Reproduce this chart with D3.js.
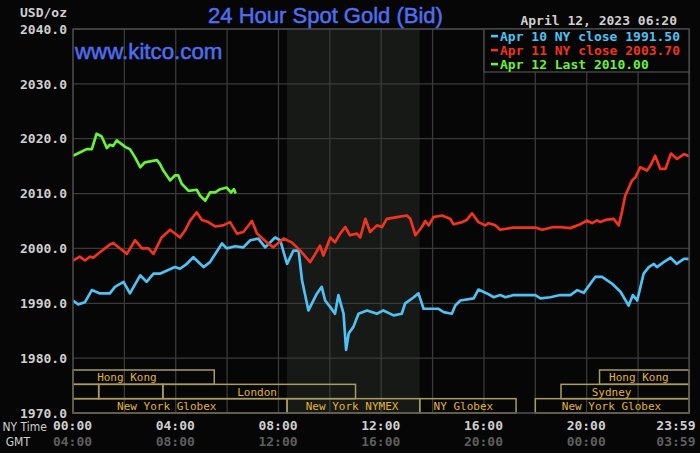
<!DOCTYPE html>
<html>
<head>
<meta charset="utf-8">
<script src="https://cdn.jsdelivr.net/npm/d3@7"></script>
<style>
  html, body { margin: 0; padding: 0; background: #060606; }
  svg { display: block; }
  .mono { font-family: "DejaVu Sans Mono", "Liberation Mono", monospace; font-weight: bold; }
</style>
</head>
<body>
<svg id="chart" width="700" height="453"></svg>
<script>
// ----- data (minutes after NY midnight, price) -----
const apr10 = [
  [0,1990.5],[12,1989.8],[28,1990.2],[44,1992.4],[63,1991.8],[86,1991.8],[98,1993.0],[118,1993.9],
  [133,1991.8],[157,1995.1],[172,1993.9],[188,1995.4],[203,1995.4],[238,1996.6],[250,1996.3],[266,1997.2],
  [281,1998.4],[305,1996.6],[320,1997.5],[348,2000.9],[359,2000.0],[379,2000.4],[398,2000.2],[414,2001.5],
  [433,2001.8],[449,2000.2],[472,2002.0],[484,2001.5],[500,1997.2],[515,1999.6],[527,1999.6],[535,1994.2],
  [550,1988.7],[570,1991.8],[581,1993.0],[589,1990.5],[601,1989.3],[612,1988.1],[620,1991.5],[632,1988.1],
  [638,1981.5],[644,1984.5],[655,1985.7],[667,1988.1],[687,1988.7],[710,1988.1],[725,1988.7],[749,1987.8],
  [768,1988.1],[776,1990.0],[796,1991.1],[807,1991.8],[819,1989.0],[835,1989.0],[854,1989.0],[866,1988.4],
  [885,1988.1],[893,1989.6],[905,1990.5],[936,1990.9],[947,1992.5],[967,1991.8],[983,1991.1],[998,1991.5],
  [1010,1991.1],[1029,1991.5],[1080,1991.5],[1092,1990.9],[1115,1991.1],[1138,1991.5],[1162,1991.5],[1178,1992.4],
  [1193,1991.9],[1220,1994.8],[1236,1994.8],[1259,1993.6],[1279,1992.1],[1298,1989.6],[1308,1991.5],[1318,1990.5],
  [1333,1995.4],[1345,1996.6],[1357,1997.2],[1364,1996.6],[1380,1997.5],[1396,1998.3],[1410,1997.2],[1427,1998.1],
  [1439,1998.1]
];
const apr11 = [
  [0,1997.8],[16,1998.5],[28,1997.8],[40,1998.5],[47,1998.3],[63,1999.3],[86,2000.7],[94,2001.0],
  [110,2000.0],[126,1999.0],[145,2001.5],[161,2000.0],[176,2000.0],[188,1999.0],[207,2002.0],[227,2003.4],
  [250,2002.0],[262,2003.3],[274,2005.1],[289,2006.6],[301,2005.2],[316,2004.8],[332,2004.0],[351,2004.2],
  [367,2004.8],[383,2002.7],[398,2003.0],[418,2005.0],[430,2002.7],[453,2001.1],[468,2000.2],[492,2001.8],
  [511,2001.1],[531,1999.6],[554,1997.5],[566,1999.0],[577,2000.5],[585,1998.7],[601,2002.0],[612,2001.1],
  [624,2002.7],[636,2003.9],[647,2002.4],[663,2002.7],[671,2002.0],[683,2005.4],[694,2003.0],[710,2004.2],
  [722,2003.9],[733,2005.4],[757,2005.7],[780,2006.0],[788,2005.4],[800,2002.4],[815,2003.9],[823,2005.0],
  [831,2004.2],[842,2005.7],[862,2006.0],[881,2005.4],[889,2004.4],[909,2004.8],[920,2005.2],[932,2006.4],
  [947,2004.8],[963,2004.2],[971,2004.6],[987,2004.2],[998,2003.4],[1029,2003.8],[1080,2003.8],[1096,2003.4],
  [1122,2003.9],[1138,2003.9],[1162,2003.7],[1185,2004.4],[1201,2005.1],[1213,2004.6],[1224,2005.1],[1232,2004.8],
  [1244,2005.2],[1263,2005.4],[1275,2004.2],[1283,2006.9],[1290,2009.6],[1306,2012.4],[1314,2013.0],[1325,2014.8],
  [1341,2014.2],[1349,2015.1],[1360,2016.9],[1372,2014.5],[1384,2014.5],[1397,2017.3],[1411,2016.3],[1427,2017.2],
  [1439,2016.8]
];
const apr12 = [
  [0,2016.9],[16,2017.5],[32,2018.1],[44,2018.1],[55,2020.9],[67,2020.4],[79,2018.3],[86,2018.9],
  [94,2018.7],[102,2019.7],[122,2018.5],[133,2018.1],[145,2016.6],[157,2014.8],[168,2015.7],[196,2016.1],
  [203,2015.4],[211,2014.2],[227,2012.4],[238,2013.3],[246,2013.3],[254,2011.8],[270,2010.5],[289,2010.7],
  [297,2009.6],[309,2008.7],[320,2010.2],[332,2010.2],[344,2010.8],[359,2011.1],[369,2010.2],[376,2010.8],
  [380,2010.0]
];

const legendLabels = ["Apr 10 NY close 1991.50", "Apr 11 NY close 2003.70", "Apr 12 Last 2010.00"];
const seriesColors = ["#4fc1f2", "#f0341f", "#6af23a"];

const priceTicks = [1970, 1980, 1990, 2000, 2010, 2020, 2030, 2040];
const timeTicks = [0, 240, 480, 720, 960, 1200, 1439];
const nyLabels = ["00:00", "04:00", "08:00", "12:00", "16:00", "20:00", "23:59"];
const gmtLabels = ["04:00", "08:00", "12:00", "16:00", "20:00", "00:00", "03:59"];
const gridTimes = d3.range(0, 1441, 120);

const comexHours = [500, 810]; // 08:20 - 13:30

// sessions: row, start, end, label, label centre (minutes)
const sessions = [
  [0, 0, 330, "Hong Kong", 126],
  [0, 1230, 1439, "Hong Kong", 1322],
  [1, 0, 60, "", 0],
  [1, 60, 210, "", 0],
  [1, 210, 660, "London", 430],
  [1, 1140, 1439, "Sydney", 1258],
  [2, 0, 500, "New York Globex", 219],
  [2, 500, 810, "New York NYMEX", 652],
  [2, 810, 1035, "NY Globex", 912],
  [2, 1080, 1439, "New York Globex", 1258]
];

// ----- layout -----
const svg = d3.select("#chart");
const pLeft = 73, pRight = 689, pTop = 29, pBottom = 413;

const x = d3.scaleLinear().domain([0, 1439]).range([pLeft, pRight]);
const y = d3.scaleLinear().domain([1970, 2040]).range([pBottom, pTop]);
const row = d3.scaleBand().domain([0, 1, 2]).range([pBottom - 43, pBottom]);

svg.append("rect").attr("width", 700).attr("height", 453).attr("fill", "#060606");

// comex shade
svg.append("rect")
  .attr("x", x(comexHours[0])).attr("y", pTop)
  .attr("width", x(comexHours[1]) - x(comexHours[0])).attr("height", pBottom - pTop)
  .attr("fill", "#161916");

// grid
const grid = svg.append("g").attr("stroke", "#3a3a3a").attr("stroke-width", 1.3);
grid.selectAll("line.v").data(gridTimes).join("line").attr("class", "v")
  .attr("x1", d => x(d)).attr("x2", d => x(d)).attr("y1", pTop).attr("y2", pBottom);
grid.selectAll("line.h").data(priceTicks).join("line").attr("class", "h")
  .attr("y1", d => y(d)).attr("y2", d => y(d)).attr("x1", pLeft).attr("x2", pRight);

// sessions
const sess = svg.append("g");
sess.selectAll("rect").data(sessions).join("rect")
  .attr("x", d => x(d[1])).attr("y", d => row(d[0]))
  .attr("width", d => x(d[2]) - x(d[1])).attr("height", row.bandwidth())
  .attr("fill", "none").attr("stroke", "#a89c62").attr("stroke-width", 1.5);
sess.selectAll("text").data(sessions.filter(d => d[3])).join("text")
  .attr("class", "mono")
  .attr("x", d => x(d[4])).attr("y", d => row(d[0]) + row.bandwidth() / 2 + 4)
  .attr("text-anchor", "middle")
  .attr("font-size", 11).style("font-weight", "normal")
  .attr("fill", "#e0b434")
  .text(d => d[3]);

// price lines
svg.append("clipPath").attr("id", "plot")
  .append("rect").attr("x", pLeft).attr("y", pTop).attr("width", pRight - pLeft).attr("height", pBottom - pTop);
const line = d3.line().x(d => x(d[0])).y(d => y(d[1]));
svg.append("g").attr("clip-path", "url(#plot)")
  .selectAll("path").data([apr10, apr11, apr12]).join("path")
  .attr("d", line)
  .attr("fill", "none")
  .attr("stroke", (d, i) => seriesColors[i])
  .attr("stroke-width", 2.7)
  .attr("stroke-linejoin", "round");

// frame
svg.append("rect").attr("x", pLeft).attr("y", pTop).attr("width", pRight - pLeft).attr("height", pBottom - pTop)
  .attr("fill", "none").attr("stroke", "#4a4a4a").attr("stroke-width", 1.3);

// y axis
const yAxis = svg.append("g").attr("transform", `translate(${pLeft - 6},0)`)
  .call(d3.axisLeft(y).tickValues(priceTicks).tickFormat(d3.format(".1f")).tickSize(0).tickPadding(0));
yAxis.select(".domain").remove();
yAxis.attr("font-family", null).attr("font-size", null);
yAxis.selectAll("text").attr("class", "mono").attr("font-size", 13).attr("fill", "#cfcfcf");
svg.append("text").attr("class", "mono").attr("x", pLeft - 6).attr("y", 17)
  .attr("text-anchor", "end").attr("font-size", 13).attr("fill", "#cfcfcf").text("USD/oz");

// x axis: NY time and GMT rows
function timeAxis(labels, yPos, color) {
  const g = svg.append("g").attr("transform", `translate(-1,${yPos})`)
    .call(d3.axisBottom(x).tickValues(timeTicks).tickFormat((d, i) => labels[i]).tickSize(0).tickPadding(0));
  g.select(".domain").remove();
  g.attr("font-family", null).attr("font-size", null);
  g.selectAll("text").attr("class", "mono").attr("font-size", 13).attr("fill", color)
    .attr("text-anchor", (d, i) => i === timeTicks.length - 1 ? "end" : "middle")
    .attr("dx", (d, i) => i === timeTicks.length - 1 ? 7 : 0);
  return g;
}
timeAxis(nyLabels, 421, "#cfcfcf");
timeAxis(gmtLabels, 436.5, "#5e5e5e");
svg.append("text").attr("x", 47).attr("y", 430.5).attr("text-anchor", "end")
  .attr("font-family", "DejaVu Sans").attr("font-stretch", "condensed").attr("font-size", 12)
  .attr("fill", "#cfcfcf").text("NY Time");
svg.append("text").attr("x", 30).attr("y", 446).attr("text-anchor", "end")
  .attr("font-family", "DejaVu Sans").attr("font-stretch", "condensed").attr("font-size", 12)
  .attr("fill", "#cfcfcf").text("GMT");

// titles
svg.append("text").attr("x", 325.5).attr("y", 23).attr("text-anchor", "middle")
  .attr("font-family", "Liberation Sans, Arial, sans-serif").attr("font-size", 22)
  .attr("fill", "#4f6ef0").attr("stroke", "#4f6ef0").attr("stroke-width", 0.5)
  .text("24 Hour Spot Gold (Bid)");
svg.append("text").attr("x", 75).attr("y", 59)
  .attr("font-family", "Liberation Sans, Arial, sans-serif").attr("font-size", 22.3)
  .attr("fill", "#4f6ef0").attr("stroke", "#4f6ef0").attr("stroke-width", 0.5)
  .text("www.kitco.com");
svg.append("text").attr("class", "mono").attr("x", 677).attr("y", 25).attr("text-anchor", "end")
  .attr("font-size", 13).attr("fill", "#cfcfcf").text("April 12, 2023 06:20");

// legend
const leg = svg.append("g");
leg.append("rect").attr("x", 484).attr("y", pTop).attr("width", pRight - 484).attr("height", 43)
  .attr("fill", "#060606").attr("stroke", "#4a4a4a").attr("stroke-width", 1.3);
const items = leg.selectAll("g.item").data(legendLabels).join("g").attr("class", "item")
  .attr("transform", (d, i) => `translate(0,${36 + i * 14})`);
items.append("rect").attr("x", 491).attr("y", -1.2).attr("width", 7).attr("height", 2.6)
  .attr("fill", (d, i) => seriesColors[i]);
items.append("text").attr("class", "mono").attr("x", 500).attr("y", 4.7)
  .attr("font-size", 13).attr("fill", (d, i) => seriesColors[i]).text(d => d);
</script>
</body>
</html>
